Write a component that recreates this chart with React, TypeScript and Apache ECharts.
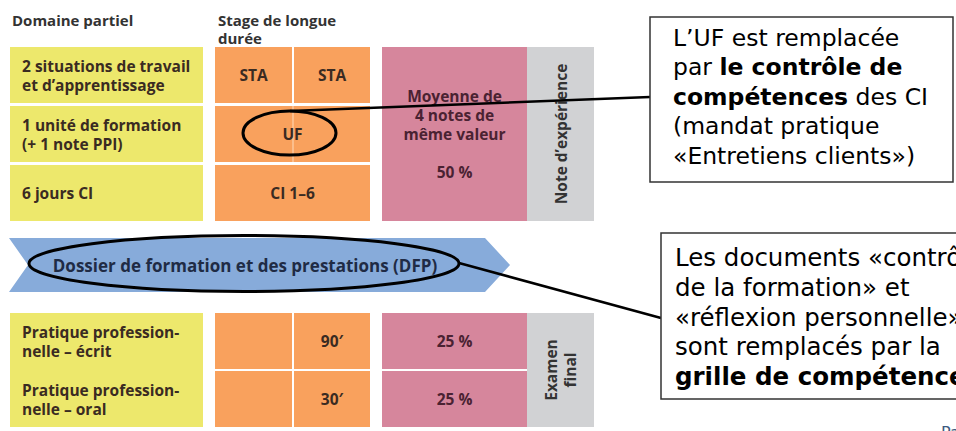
import React, { useEffect, useRef } from "react";
import * as echarts from "echarts";

// ---- content ----
const headers = ["Domaine partiel", "Stage de longue\ndurée"];
const domainLabels = [
  "2 situations de travail\net d’apprentissage",
  "1 unité de formation\n(+ 1 note PPI)",
  "6 jours CI",
  "Pratique profession-\nnelle – écrit",
  "Pratique profession-\nnelle – oral",
];
const stageLabels = ["STA", "STA", "UF", "CI 1–6", "90′", "30′"];
const weightLabels = ["Moyenne de\n4 notes de\nmême valeur\n\n50 %", "25 %", "25 %"];
const sideLabels = ["Note d’expérience", "Examen\nfinal"];
const bandLabel = "Dossier de formation et des prestations (DFP)";
const callout1 =
  "L’UF est remplacée\npar {b|le contrôle de}\n{b|compétences} des CI\n(mandat pratique\n«Entretiens clients»)";
const callout2 =
  "Les documents «contrôle\nde la formation» et\n«réflexion personnelle»\nsont remplacés par la\n{b|grille de compétences}";

// ---- layout (grid of columns / rows in page pixels) ----
const colX = [
  [10, 203],
  [215, 292],
  [294, 370],
  [382, 527],
  [527, 594],
];
const rowY = [
  [47, 103],
  [106, 162],
  [165, 221],
  [313, 369],
  [371, 427],
];

const colors: Record<string, string> = {
  yellow: "#ede86c",
  orange: "#f9a15d",
  pink: "#d6869c",
  gray: "#d1d2d4",
  blue: "#87abda",
};

type Cell = {
  c: [number, number];
  r: [number, number];
  fill: string | null;
  text: string;
  align?: "left" | "center";
  rotate?: boolean;
  divider?: boolean;
};

const cells: Cell[] = [
  { c: [0, 0], r: [0, 0], fill: "yellow", text: domainLabels[0], align: "left" },
  { c: [0, 0], r: [1, 1], fill: "yellow", text: domainLabels[1], align: "left" },
  { c: [0, 0], r: [2, 2], fill: "yellow", text: domainLabels[2], align: "left" },
  { c: [0, 0], r: [3, 4], fill: "yellow", text: "" },
  { c: [0, 0], r: [3, 3], fill: null, text: domainLabels[3], align: "left" },
  { c: [0, 0], r: [4, 4], fill: null, text: domainLabels[4], align: "left" },
  { c: [1, 1], r: [0, 0], fill: "orange", text: stageLabels[0] },
  { c: [2, 2], r: [0, 0], fill: "orange", text: stageLabels[1] },
  { c: [1, 2], r: [1, 1], fill: "orange", text: stageLabels[2], divider: true },
  { c: [1, 2], r: [2, 2], fill: "orange", text: stageLabels[3] },
  { c: [1, 1], r: [3, 3], fill: "orange", text: "" },
  { c: [2, 2], r: [3, 3], fill: "orange", text: stageLabels[4] },
  { c: [1, 1], r: [4, 4], fill: "orange", text: "" },
  { c: [2, 2], r: [4, 4], fill: "orange", text: stageLabels[5] },
  { c: [3, 3], r: [0, 2], fill: "pink", text: weightLabels[0] },
  { c: [3, 3], r: [3, 3], fill: "pink", text: weightLabels[1] },
  { c: [3, 3], r: [4, 4], fill: "pink", text: weightLabels[2] },
  { c: [4, 4], r: [0, 2], fill: "gray", text: sideLabels[0], rotate: true },
  { c: [4, 4], r: [3, 4], fill: "gray", text: sideLabels[1], rotate: true },
];

const SANS = "'Open Sans', sans-serif";
const VERD = "'DejaVu Sans', Verdana, sans-serif";

export default function App() {
  const ref = useRef<HTMLDivElement>(null);
  useEffect(() => {
    document.body.style.margin = "0";
    if (!ref.current) return;
    const chart = echarts.init(ref.current, null, { renderer: "svg" });

    const cellData = cells.map((_cl, i) => [i]);

    const option: any = {
      animation: false,
      backgroundColor: "#ffffff",
      grid: { left: 0, right: 0, top: 0, bottom: 0 },
      xAxis: { type: "value", min: 0, max: 956, show: false },
      yAxis: { type: "value", min: 0, max: 431, inverse: true, show: false },
      series: [
        {
          type: "custom",
          coordinateSystem: "cartesian2d",
          data: [[0]],
          silent: true,
          z: 2,
          renderItem: (_p: any, api: any) => {
            const pts = [
              [9, 238],
              [485, 238],
              [510, 265],
              [485, 292],
              [9, 292],
              [28, 265],
            ].map((p) => api.coord(p));
            const c = api.coord([245, 265]);
            return {
              type: "group",
              children: [
                { type: "polygon", shape: { points: pts }, style: { fill: colors.blue } },
                {
                  type: "text",
                  x: c[0],
                  y: c[1],
                  style: {
                    text: bandLabel,
                    fill: "#1f2b45",
                    fontFamily: SANS,
                    fontWeight: "bold",
                    fontSize: 17,
                    align: "center",
                    verticalAlign: "middle",
                  },
                },
              ],
            };
          },
        },
        {
          type: "custom",
          coordinateSystem: "cartesian2d",
          data: cellData,
          silent: true,
          z: 2,
          renderItem: (params: any, api: any) => {
            const cl = cells[params.dataIndex];
            const x0 = colX[cl.c[0]][0];
            const x1 = colX[cl.c[1]][1];
            const y0 = rowY[cl.r[0]][0];
            const y1 = rowY[cl.r[1]][1];
            const p0 = api.coord([x0, y0]);
            const p1 = api.coord([x1, y1]);
            const children: any[] = [];
            if (cl.fill) {
              children.push({
                type: "rect",
                shape: { x: p0[0], y: p0[1], width: p1[0] - p0[0], height: p1[1] - p0[1] },
                style: { fill: colors[cl.fill] },
              });
            }
            if (cl.divider) {
              const mx = api.coord([(colX[1][1] + colX[2][0]) / 2, 0])[0];
              children.push({
                type: "line",
                shape: { x1: mx, y1: p0[1], x2: mx, y2: p1[1] },
                style: { stroke: "#fcc89c", lineWidth: 1.5 },
              });
            }
            if (cl.text) {
              const left = cl.align === "left";
              const tx = left ? p0[0] + 12 : (p0[0] + p1[0]) / 2;
              const ty = (p0[1] + p1[1]) / 2;
              const fill = cl.fill === "pink" ? "#4a2232" : cl.fill === "gray" ? "#333333" : "#3a2b22";
              children.push({
                type: "text",
                x: tx,
                y: ty,
                rotation: cl.rotate ? Math.PI / 2 : 0,
                style: {
                  text: cl.text,
                  fill,
                  fontFamily: SANS,
                  fontWeight: "bold",
                  fontSize: 15.5,
                  lineHeight: 19,
                  align: left ? "left" : "center",
                  verticalAlign: "middle",
                },
              });
            }
            return { type: "group", children };
          },
        },
      ],
      graphic: [
        {
          type: "text",
          x: 12,
          y: 20,
          z: 10,
          style: {
            text: headers[0],
            fill: "#333333",
            fontFamily: SANS,
            fontWeight: "bold",
            fontSize: 15,
            verticalAlign: "middle",
          },
        },
        {
          type: "text",
          x: 218,
          y: 11,
          z: 10,
          style: {
            text: headers[1],
            fill: "#333333",
            fontFamily: SANS,
            fontWeight: "bold",
            fontSize: 15,
            lineHeight: 18,
            verticalAlign: "top",
          },
        },
        {
          type: "ellipse",
          z: 10,
          shape: { cx: 289.5, cy: 133, rx: 46.5, ry: 22 },
          style: { fill: "none", stroke: "#000", lineWidth: 3 },
        },
        {
          type: "ellipse",
          z: 10,
          shape: { cx: 244, cy: 263.5, rx: 215, ry: 28 },
          style: { fill: "none", stroke: "#000", lineWidth: 3 },
        },
        {
          type: "line",
          z: 10,
          shape: { x1: 290, y1: 111, x2: 650, y2: 97 },
          style: { stroke: "#000", lineWidth: 2.5 },
        },
        {
          type: "line",
          z: 10,
          shape: { x1: 459, y1: 263, x2: 661, y2: 318 },
          style: { stroke: "#000", lineWidth: 2.5 },
        },
        {
          type: "rect",
          z: 10,
          shape: { x: 650, y: 17, width: 303, height: 165 },
          style: { fill: "#fff", stroke: "#333", lineWidth: 1.5 },
        },
        {
          type: "text",
          x: 673,
          y: 23,
          z: 11,
          style: {
            text: callout1,
            fill: "#000",
            fontFamily: VERD,
            fontSize: 23.5,
            lineHeight: 29.5,
            verticalAlign: "top",
            rich: {
              b: { fontFamily: VERD, fontWeight: "bold", fontSize: 23.5, lineHeight: 29.5, fill: "#000" },
            },
          },
        },
        {
          type: "rect",
          z: 10,
          shape: { x: 661, y: 233, width: 320, height: 166 },
          style: { fill: "#fff", stroke: "#333", lineWidth: 1.5 },
        },
        {
          type: "text",
          x: 675,
          y: 243,
          z: 11,
          style: {
            text: callout2,
            fill: "#000",
            fontFamily: VERD,
            fontSize: 24.5,
            lineHeight: 29.7,
            verticalAlign: "top",
            rich: {
              b: { fontFamily: VERD, fontWeight: "bold", fontSize: 24.5, lineHeight: 29.7, fill: "#000" },
            },
          },
        },
        {
          type: "text",
          x: 941,
          y: 424,
          z: 10,
          style: { text: "Pa", fill: "#3d5a80", fontFamily: VERD, fontSize: 16, verticalAlign: "top" },
        },
      ],
    };
    chart.setOption(option);
    return () => chart.dispose();
  }, []);
  return <div ref={ref} style={{ width: 956, height: 431 }} />;
}
